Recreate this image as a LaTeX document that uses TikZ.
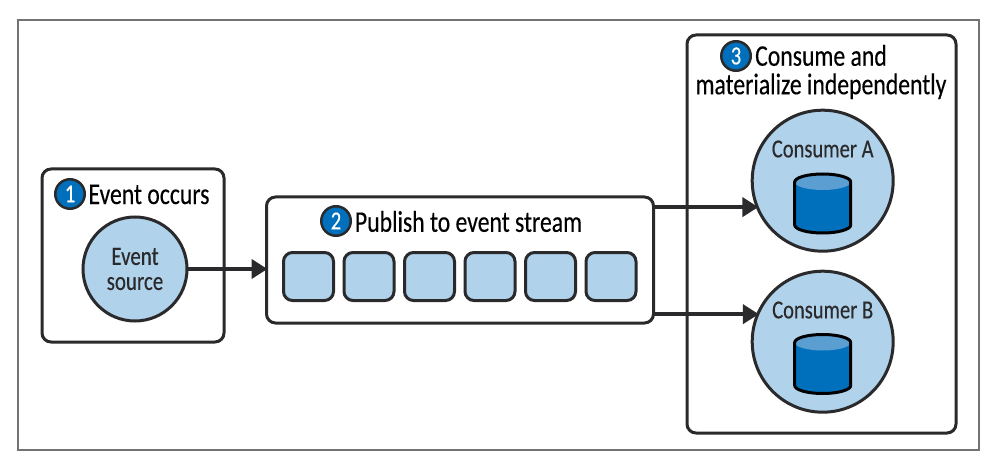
\documentclass[tikz,border=0pt]{standalone}
\usepackage{fontspec}
\setmainfont[FakeStretch=0.79,FakeBold=0.25]{Carlito}
\usetikzlibrary{arrows.meta}
\definecolor{inkline}{HTML}{2A2A2C}
\definecolor{paleblue}{HTML}{B0D2EA}
\definecolor{deepblue}{HTML}{0070BC}
\definecolor{topblue}{HTML}{5B9FD2}
\tikzstyle{frame} = [rectangle, draw=black!55, line width=1.2pt, minimum width=961pt, minimum height=430pt, inner sep=0pt, outer sep=0pt]
\tikzstyle{group} = [rectangle, rounded corners=9pt, draw=inkline, line width=3pt, fill=white, inner sep=0pt, outer sep=0pt]
\tikzstyle{disc} = [circle, draw=inkline, line width=3pt, fill=paleblue, inner sep=0pt, outer sep=0pt, text=inkline, font=\fontsize{26.5}{25}\selectfont, align=center]
\tikzstyle{cell} = [rectangle, rounded corners=9pt, draw=inkline, line width=3pt, fill=paleblue, minimum width=50pt, minimum height=48pt, inner sep=0pt]
\tikzstyle{badge} = [circle, draw=inkline, line width=2.5pt, fill=deepblue, text=white, minimum size=29.5pt, inner sep=0pt, font=\fontsize{26}{26}\selectfont]
\tikzstyle{title} = [inner sep=0pt, text=black, font=\fontsize{30}{28.5}\selectfont, align=center]
\tikzstyle{tag} = [inner sep=0pt, text=inkline, font=\fontsize{26}{26}\selectfont]
\tikzstyle{arrow} = [line width=4.2pt, draw=inkline, -{Triangle[length=16pt,width=19pt]}, shorten >=-1pt]
\begin{document}
\begin{tikzpicture}[x=1pt, y=-1pt, node distance=60.5pt]
\useasboundingbox (0,0) rectangle (990,457);
\node (outer) [frame] at (498.5,235) {};
% step 1
\node (occurs) [group, minimum width=182pt, minimum height=173pt] at (133,255.5) {};
\node (source) [disc, minimum size=104pt] at (135,269) {Event\\source};
\node (one) [badge] at (70,194) {1};
\node (occurstext) [title] at (149,194.5) {Event occurs};
% step 2
\node (stream) [group, minimum width=387pt, minimum height=126pt] at (460,260) {};
\node (two) [badge] at (336,221) {2};
\node (streamtext) [title] at (468.5,221.5) {Publish to event stream};
\node (cellA) [cell] at (308.5,276.5) {};
\node (cellB) [cell, right of=cellA] {};
\node (cellC) [cell, right of=cellB] {};
\node (cellD) [cell, right of=cellC] {};
\node (cellE) [cell, right of=cellD] {};
\node (cellF) [cell, right of=cellE] {};
% step 3
\node (consume) [group, minimum width=269pt, minimum height=398pt] at (821.5,234) {};
\node (three) [badge] at (736,56) {3};
\node (consumetext) [title] at (821,72) {Consume and\\materialize independently};
\node (consumerA) [disc, minimum size=141pt] at (822.7,180.7) {};
\node (consumerB) [disc, minimum size=141pt] at (822.7,341.7) {};
\node (labelA) [tag] at (822.7,149) {Consumer A};
\node (labelB) [tag] at (822.7,310) {Consumer B};
\coordinate (storeA) at (822.7,182);
\coordinate (storeB) at (822.7,342.5);
% the two stores
\foreach \drum in {storeA,storeB} {
\fill [deepblue] ([shift={(-28,0)}]\drum) -- ++(0,43) arc[start angle=180, end angle=0, x radius=28, y radius=8] -- ++(0,-43) -- cycle;
\fill [topblue] (\drum) ellipse [x radius=28, y radius=8];
\draw [black, line width=3pt] ([shift={(-28,0)}]\drum) -- ++(0,43) arc[start angle=180, end angle=0, x radius=28, y radius=8] -- ++(0,-43) arc[start angle=0, end angle=-180, x radius=28, y radius=8] -- cycle;
}
% arrows
\draw [arrow] (source) -- (stream.west |- source);
\draw [arrow] (stream.east |- consumerA.202.5) -- (consumerA.202.5);
\draw [arrow] (stream.east |- consumerB.157.8) -- (consumerB.157.8);
\end{tikzpicture}
\end{document}
